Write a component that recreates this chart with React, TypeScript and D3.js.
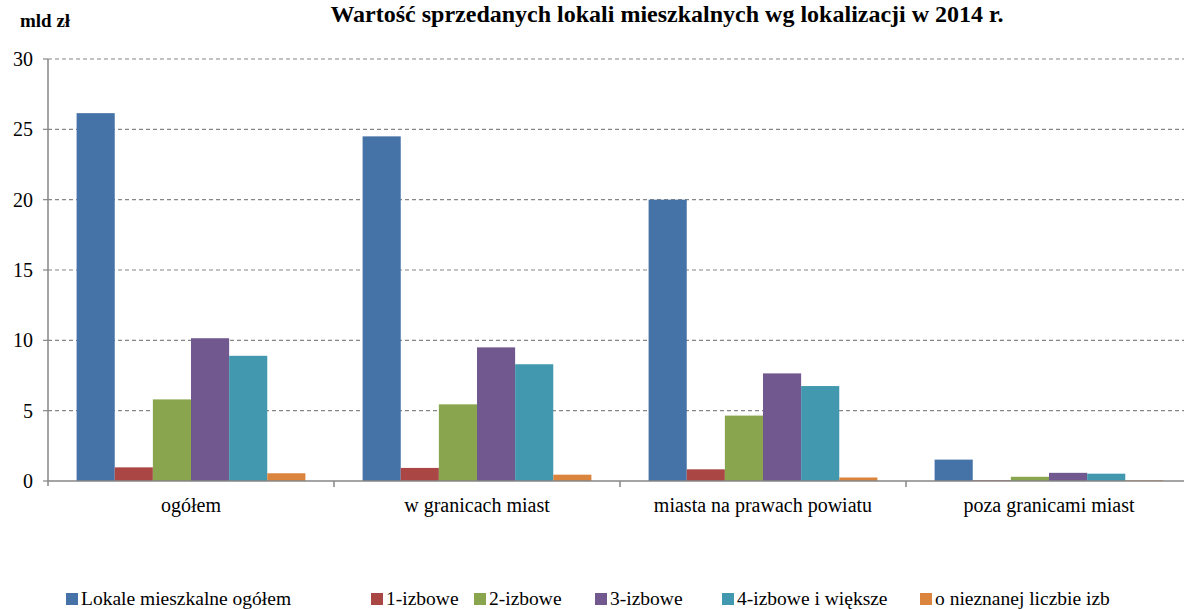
import React from "react";
import * as d3 from "d3";

const categories = ["ogółem", "w granicach miast", "miasta na prawach powiatu", "poza granicami miast"];
const seriesNames = ["Lokale mieszkalne ogółem", "1-izbowe", "2-izbowe", "3-izbowe", "4-izbowe i większe", "o nieznanej liczbie izb"];
const colors = ["#4572A7", "#AA4643", "#89A54E", "#71588F", "#4198AF", "#DB843D"];
const valuesOgolem = [26.15, 0.97, 5.8, 10.15, 8.9, 0.55];
const valuesWGranicach = [24.5, 0.93, 5.45, 9.5, 8.3, 0.45];
const valuesMiastaNpp = [20.0, 0.83, 4.65, 7.65, 6.75, 0.25];
const valuesPoza = [1.52, 0.05, 0.3, 0.58, 0.52, 0.05];
const yTicks = [0, 5, 10, 15, 20, 25, 30];
const legendX = [66, 371, 474, 595, 722, 920];

const data = [valuesOgolem, valuesWGranicach, valuesMiastaNpp, valuesPoza];

export default function App() {
  const W = 1184, H = 609;
  const x0 = d3.scaleBand<string>().domain(categories).range([48, 1192]).padding(0);
  const bw = x0.bandwidth();
  const barW = bw / 7.5;
  const x1 = d3.scaleBand<string>().domain(seriesNames).range([barW * 0.75, bw - barW * 0.75]).padding(0);
  const y = d3.scaleLinear().domain([0, 30]).range([481, 59]);
  const font = "Liberation Serif";
  const grid = "#868686";

  return (
    <svg width={W} height={H} style={{ position: "absolute", left: 0, top: 0, background: "#fff", fontFamily: font }}>
      <text x={667} y={22} textAnchor="middle" fontSize={24} fontWeight="bold" style={{ fontFamily: font }}>
        Wartość sprzedanych lokali mieszkalnych wg lokalizacji w 2014 r.
      </text>
      <text x={20} y={27} fontSize={19} fontWeight="bold" style={{ fontFamily: font }}>mld zł</text>
      {yTicks.filter(t => t > 0).map(t => (
        <line key={"g" + t} x1={48} x2={1192} y1={y(t)} y2={y(t)} stroke={grid} strokeWidth={1.2} strokeDasharray="4,3" />
      ))}
      {categories.map((c, i) => (
        <g key={c} transform={`translate(${x0(c)},0)`}>
          {seriesNames.map((s, j) => (
            <rect key={s} x={x1(s)} width={x1.bandwidth()} y={y(data[i][j])} height={y(0) - y(data[i][j])} fill={colors[j]} />
          ))}
        </g>
      ))}
      <line x1={48} x2={1192} y1={y(0)} y2={y(0)} stroke={grid} strokeWidth={1.5} />
      <line x1={48} x2={48} y1={y(30)} y2={y(0) + 5} stroke={grid} strokeWidth={1.5} />
      {yTicks.map(t => (
        <g key={"t" + t}>
          <line x1={43} x2={48} y1={y(t)} y2={y(t)} stroke={grid} strokeWidth={1.2} />
          <text x={33} y={y(t) + 7} textAnchor="end" fontSize={20} style={{ fontFamily: font }}>{t}</text>
        </g>
      ))}
      {categories.map((c, i) => (
        <g key={"x" + c}>
          <line x1={x0(c)! + bw} x2={x0(c)! + bw} y1={y(0)} y2={y(0) + 6} stroke={grid} strokeWidth={1.5} />
          <text x={x0(c)! + bw / 2} y={512} textAnchor="middle" fontSize={20} style={{ fontFamily: font }}>{c}</text>
        </g>
      ))}
      {seriesNames.map((s, j) => (
        <g key={"l" + s}>
          <rect x={legendX[j]} y={593} width={12} height={12} fill={colors[j]} />
          <text x={legendX[j] + 15} y={605} fontSize={19.5} style={{ fontFamily: font }}>{s}</text>
        </g>
      ))}
    </svg>
  );
}
